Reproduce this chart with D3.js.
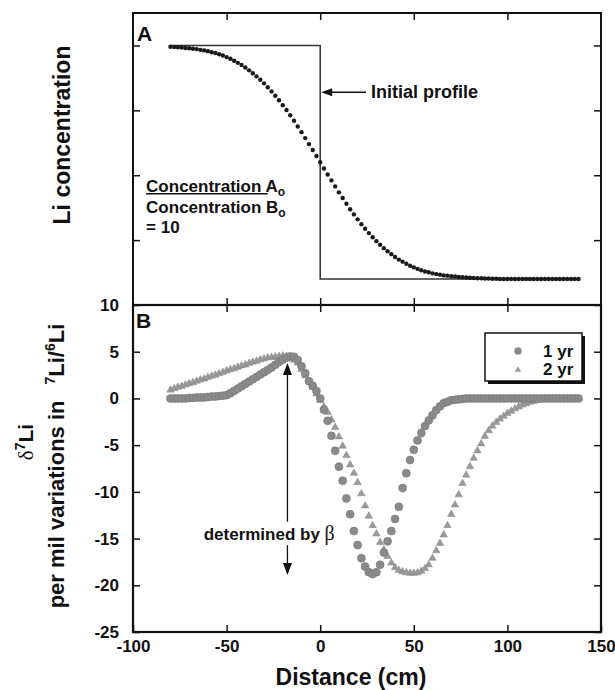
<!DOCTYPE html>
<html>
<head>
<meta charset="utf-8">
<script src="https://cdn.jsdelivr.net/npm/d3@7/dist/d3.min.js"></script>
<style>
body { margin: 0; background: #fff; }
text { font-family: "Liberation Sans", Arial, sans-serif; font-weight: bold; fill: #111; }
.axis path.domain { display: none; }
.axis line { stroke: #111; stroke-width: 1.5; }
.axis text { font-size: 17px; }
</style>
</head>
<body>
<div id="chart"></div>
<script>
// distance grid (cm), shared by both panels
var distance = [-80, -78, -76, -74, -72, -70, -68, -66, -64, -62, -60, -58, -56, -54, -52, -50, -48, -46, -44, -42,
  -40, -38, -36, -34, -32, -30, -28, -26, -24, -22, -20, -18, -16, -14, -12, -10, -8, -6, -4, -2,
  0, 2, 4, 6, 8, 10, 12, 14, 16, 18, 20, 22, 24, 26, 28, 30, 32, 34, 36, 38,
  40, 42, 44, 46, 48, 50, 52, 54, 56, 58, 60, 62, 64, 66, 68, 70, 72, 74, 76, 78,
  80, 82, 84, 86, 88, 90, 92, 94, 96, 98, 100, 102, 104, 106, 108, 110, 112, 114, 116, 118,
  120, 122, 124, 126, 128, 130, 132, 134, 136, 138];

// panel A: Li concentration after diffusion
var concentration = [9.95, 9.94, 9.93, 9.92, 9.90, 9.89, 9.87, 9.86, 9.83, 9.81, 9.78, 9.74, 9.71, 9.66, 9.61, 9.55, 9.49, 9.41, 9.33, 9.25,
  9.15, 9.04, 8.93, 8.81, 8.68, 8.54, 8.39, 8.23, 8.06, 7.89, 7.70, 7.51, 7.31, 7.10, 6.88, 6.66, 6.43, 6.20, 5.97, 5.74,
  5.50, 5.26, 5.03, 4.80, 4.57, 4.34, 4.12, 3.90, 3.69, 3.49, 3.30, 3.11, 2.94, 2.77, 2.61, 2.46, 2.32, 2.19, 2.07, 1.96,
  1.85, 1.75, 1.67, 1.59, 1.51, 1.45, 1.39, 1.34, 1.29, 1.26, 1.22, 1.19, 1.17, 1.14, 1.13, 1.11, 1.10, 1.08, 1.07, 1.06,
  1.05, 1.04, 1.03, 1.03, 1.02, 1.02, 1.01, 1.01, 1.00, 1.00, 1.00, 1.00, 1.00, 1.00, 1.00, 1.00, 1.00, 1.00, 1.00, 1.00,
  1.00, 1.00, 1.00, 1.00, 1.00, 1.00, 1.00, 1.00, 1.00, 1.00];

// initial step profile
var initialX = [-80, 0, 0, 138];
var initialC = [10, 10, 1, 1];

// panel B: delta7Li (per mil)
var delta1yr = [0, 0, 0, 0, 0, 0.05, 0.05, 0.1, 0.1, 0.1, 0.15, 0.2, 0.2, 0.25, 0.3, 0.35, 0.55, 0.8, 1.05, 1.3,
  1.55, 1.8, 2.05, 2.3, 2.55, 2.8, 3.05, 3.3, 3.6, 3.9, 4.15, 4.35, 4.5, 4.45, 4.1, 3.45, 2.7, 1.85, 1.35, 0.8,
  0, -1.2, -2.4, -4.0, -5.6, -7.3, -8.8, -10.7, -12.4, -14.2, -15.7, -17.1, -18.0, -18.6, -18.8, -18.6, -17.8, -16.5, -15.3, -14.2,
  -12.9, -11.6, -9.6, -8.0, -6.6, -5.5, -4.5, -3.7, -2.95, -2.35, -1.8, -1.25, -0.85, -0.5, -0.35, -0.2, -0.15, -0.1, -0.05, 0,
  0, 0, 0, 0, 0, 0, 0, 0, 0, 0, 0, 0, 0, 0, 0, 0, 0, 0, 0, 0,
  0, 0, 0, 0, 0, 0, 0, 0, 0, 0];

var delta2yr = [0.9, 1.05, 1.2, 1.3, 1.45, 1.6, 1.7, 1.85, 2.0, 2.1, 2.25, 2.4, 2.5, 2.65, 2.8, 2.95, 3.1, 3.2, 3.35, 3.5,
  3.6, 3.75, 3.9, 4.0, 4.15, 4.25, 4.35, 4.4, 4.45, 4.5, 4.55, 4.5, 4.4, 4.1, 3.8, 3.1, 2.45, 1.8, 1.2, 0.5,
  -0.2, -0.9, -1.5, -2.3, -3.1, -4.1, -5.1, -6.1, -7.1, -8.0, -9.0, -10.2, -11.5, -12.6, -13.6, -14.5, -15.4, -16.2, -16.9, -17.6,
  -18.1, -18.4, -18.55, -18.65, -18.7, -18.7, -18.65, -18.5, -18.2, -17.8, -17.1, -16.3, -15.5, -14.6, -13.6, -12.4, -11.4, -10.3, -9.1, -8.2,
  -7.3, -6.4, -5.6, -4.85, -4.05, -3.45, -2.95, -2.55, -2.2, -1.9, -1.6, -1.35, -1.1, -0.9, -0.7, -0.55, -0.4, -0.3, -0.2, -0.12,
  -0.06, -0.02, 0, 0, 0, 0, 0, 0, 0, 0];

var xTicks = [-100, -50, 0, 50, 100, 150];
var xInnerTicks = [-50, 0, 50, 100];
var concTicks = [2.5, 5, 7.5, 10];
var deltaTicks = [10, 5, 0, -5, -10, -15, -20, -25];

var width = 615, height = 690;
var left = 133, right = 601, topA = 13, midY = 305, bottomB = 632;

var svg = d3.select("#chart").append("svg")
  .attr("width", width)
  .attr("height", height);

var x = d3.scaleLinear().domain([-100, 150]).range([left, right]);
var yA = d3.scaleLinear().domain([0, 11.25]).range([midY, topA]);
var yB = d3.scaleLinear().domain([-25, 10]).range([bottomB, midY]);

// plain hyphen minus like the original
var plain = function(d) { return String(d); };

// ---- axes (inward ticks) ----
svg.append("g").attr("class", "axis").attr("transform", "translate(0," + topA + ")")
  .call(d3.axisTop(x).tickValues(xInnerTicks).tickSizeInner(-7).tickSizeOuter(0).tickFormat(""));
svg.append("g").attr("class", "axis").attr("transform", "translate(0," + midY + ")")
  .call(d3.axisBottom(x).tickValues(xInnerTicks).tickSizeInner(-7).tickSizeOuter(0).tickFormat(""));
svg.append("g").attr("class", "axis").attr("transform", "translate(0," + midY + ")")
  .call(d3.axisTop(x).tickValues(xInnerTicks).tickSizeInner(-7).tickSizeOuter(0).tickFormat(""));
svg.append("g").attr("class", "axis").attr("transform", "translate(0," + bottomB + ")")
  .call(d3.axisBottom(x).tickValues(xTicks).tickSizeInner(-7).tickSizeOuter(0).tickPadding(8).tickFormat(plain));

svg.append("g").attr("class", "axis").attr("transform", "translate(" + left + ",0)")
  .call(d3.axisLeft(yA).tickValues(concTicks).tickSizeInner(-7).tickSizeOuter(0).tickFormat(""));
svg.append("g").attr("class", "axis").attr("transform", "translate(" + right + ",0)")
  .call(d3.axisRight(yA).tickValues(concTicks).tickSizeInner(-7).tickSizeOuter(0).tickFormat(""));
svg.append("g").attr("class", "axis").attr("transform", "translate(" + left + ",0)")
  .call(d3.axisLeft(yB).tickValues(deltaTicks).tickSizeInner(-7).tickSizeOuter(0).tickPadding(14).tickFormat(plain));
svg.append("g").attr("class", "axis").attr("transform", "translate(" + right + ",0)")
  .call(d3.axisRight(yB).tickValues(deltaTicks).tickSizeInner(-7).tickSizeOuter(0).tickFormat(""));

// frames
svg.append("rect").attr("x", left).attr("y", topA).attr("width", right - left).attr("height", midY - topA)
  .attr("fill", "none").attr("stroke", "#111").attr("stroke-width", 2);
svg.append("rect").attr("x", left).attr("y", midY).attr("width", right - left).attr("height", bottomB - midY)
  .attr("fill", "none").attr("stroke", "#111").attr("stroke-width", 2.2);

// ---- panel A ----
var initial = initialX.map(function(d, i) { return [d, initialC[i]]; });
svg.append("path")
  .attr("d", d3.line().x(function(d) { return x(d[0]); }).y(function(d) { return yA(d[1]); })(initial))
  .attr("fill", "none").attr("stroke", "#333").attr("stroke-width", 1.5);

var profA = distance.map(function(d, i) { return { x: d, c: concentration[i] }; });
svg.append("g").selectAll("circle").data(profA).enter().append("circle")
  .attr("cx", function(d) { return x(d.x); })
  .attr("cy", function(d) { return yA(d.c); })
  .attr("r", 2.2)
  .attr("fill", "#1a1a1a");

svg.append("text").attr("x", left + 4).attr("y", topA + 28).style("font-size", "21px").text("A");

// "Initial profile" arrow
var arrowY = yA(8.2);
svg.append("line").attr("x1", x(0) + 8).attr("x2", x(24.5)).attr("y1", arrowY).attr("y2", arrowY)
  .attr("stroke", "#111").attr("stroke-width", 1.5);
svg.append("path")
  .attr("d", "M" + (x(0) + 1) + "," + arrowY + "l11,-4l0,8z")
  .attr("fill", "#111");
svg.append("text").attr("x", x(27.2)).attr("y", yA(7.96)).style("font-size", "18px").text("Initial profile");

// ratio note
var note = svg.append("g").style("font-size", "17px");
var l1 = note.append("text").attr("x", x(-93)).attr("y", yA(4.36));
var l1a = l1.append("tspan").text("Concentration A");
l1.append("tspan").attr("dy", 4).style("font-size", "12px").text("o");
var uw = l1a.node().getComputedTextLength();
note.append("line").attr("x1", x(-93)).attr("x2", x(-93) + uw - 10)
  .attr("y1", yA(4.36) + 2).attr("y2", yA(4.36) + 2)
  .attr("stroke", "#111").attr("stroke-width", 1.5);
var l2 = note.append("text").attr("x", x(-93)).attr("y", yA(3.53));
l2.append("tspan").text("Concentration B");
l2.append("tspan").attr("dy", 4).style("font-size", "12px").text("o");
note.append("text").attr("x", x(-93)).attr("y", yA(2.76)).text("= 10");

// ---- panel B ----
var series2 = distance.map(function(d, i) { return { x: d, v: delta2yr[i] }; });
var series1 = distance.map(function(d, i) { return { x: d, v: delta1yr[i] }; });

var tri = d3.symbol().type(d3.symbolTriangle).size(24);
svg.append("g").selectAll("path").data(series2).enter().append("path")
  .attr("d", tri)
  .attr("transform", function(d) { return "translate(" + x(d.x) + "," + yB(d.v) + ")"; })
  .attr("fill", "#9a9a9a")
  .attr("stroke", "#878787")
  .attr("stroke-width", 0.5);

svg.append("g").selectAll("circle").data(series1).enter().append("circle")
  .attr("cx", function(d) { return x(d.x); })
  .attr("cy", function(d) { return yB(d.v); })
  .attr("r", 4)
  .attr("fill", "#8a8a8a")
  .attr("stroke", "#777")
  .attr("stroke-width", 0.6);

svg.append("text").attr("x", left + 3).attr("y", midY + 23).style("font-size", "21px").text("B");

// beta arrow
var ax = x(-17.5);
svg.append("line").attr("x1", ax).attr("x2", ax).attr("y1", yB(3.8) + 10).attr("y2", yB(-13.2))
  .attr("stroke", "#111").attr("stroke-width", 1.3);
svg.append("path").attr("d", "M" + ax + "," + yB(3.8) + "l-4.5,12l9,0z").attr("fill", "#111");
svg.append("line").attr("x1", ax).attr("x2", ax).attr("y1", yB(-15.7)).attr("y2", yB(-18.9) - 10)
  .attr("stroke", "#111").attr("stroke-width", 1.3);
svg.append("path").attr("d", "M" + ax + "," + yB(-18.9) + "l-4.5,-12l9,0z").attr("fill", "#111");

var det = svg.append("text").attr("x", x(7.8)).attr("y", yB(-15.1))
  .attr("text-anchor", "end").style("font-size", "17px");
det.append("tspan").text("determined by ");
det.append("tspan").style("font-family", "'Liberation Serif', 'DejaVu Serif', serif")
  .style("font-weight", "normal").style("font-size", "20px").text("\u03b2");

// legend
var lg = svg.append("g");
lg.append("rect").attr("x", 488).attr("y", 336).attr("width", 97).attr("height", 48).attr("fill", "#111");
lg.append("rect").attr("x", 485).attr("y", 333).attr("width", 97).attr("height", 48)
  .attr("fill", "#fff").attr("stroke", "#111").attr("stroke-width", 1.5);
lg.append("circle").attr("cx", 518).attr("cy", 351).attr("r", 3.8).attr("fill", "#8a8a8a");
lg.append("path").attr("d", d3.symbol().type(d3.symbolTriangle).size(18))
  .attr("transform", "translate(518,370)").attr("fill", "#9a9a9a");
lg.append("text").attr("x", 543).attr("y", 357).style("font-size", "17px").text("1 yr");
lg.append("text").attr("x", 543).attr("y", 375).style("font-size", "17px").text("2 yr");

// ---- axis titles ----
svg.append("text")
  .attr("transform", "translate(70,135) rotate(-90)")
  .attr("text-anchor", "middle")
  .style("font-size", "23px")
  .text("Li concentration");

var yt = svg.append("text")
  .attr("transform", "translate(64,466) rotate(-90)")
  .attr("text-anchor", "middle")
  .style("font-size", "22px");
yt.append("tspan").text("per mil variations in");
yt.append("tspan").attr("dx", 16).attr("dy", -9).style("font-size", "14px").text("7");
yt.append("tspan").attr("dy", 9).text("Li/");
yt.append("tspan").attr("dy", -9).style("font-size", "14px").text("6");
yt.append("tspan").attr("dy", 9).text("Li");

var dl = svg.append("text")
  .attr("transform", "translate(33,442) rotate(-90)")
  .attr("text-anchor", "middle")
  .style("font-size", "21px");
dl.append("tspan").style("font-family", "'Liberation Serif', 'DejaVu Serif', serif")
  .style("font-weight", "normal").text("\u03b4");
dl.append("tspan").attr("dy", -8).style("font-size", "14px").text("7");
dl.append("tspan").attr("dy", 8).text("Li");

svg.append("text").attr("x", 351).attr("y", 685).attr("text-anchor", "middle")
  .style("font-size", "23px").text("Distance (cm)");
</script>
</body>
</html>
